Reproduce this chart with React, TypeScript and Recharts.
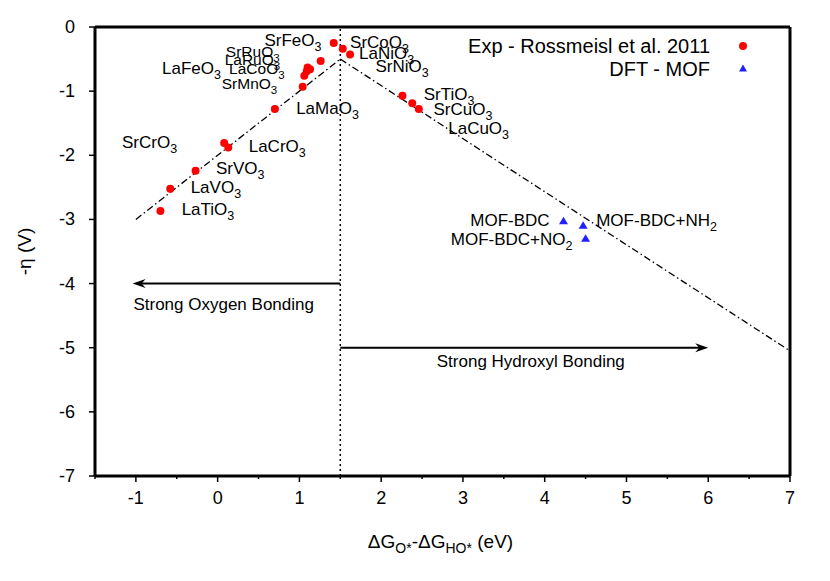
import React from "react";
import { ReferenceLine, Scatter, ScatterChart, XAxis, YAxis } from "recharts";

// Rossmeisl et al. 2011 experimental perovskites
const expX = [1.42, 1.53, 1.62, 1.26, 1.1, 1.13, 1.09, 1.06, 1.04, 0.7, 0.08, 0.13, -0.27, -0.58, -0.7, 2.26, 2.38, 2.46];
const expY = [-0.25, -0.34, -0.43, -0.53, -0.63, -0.66, -0.69, -0.76, -0.93, -1.28, -1.81, -1.88, -2.24, -2.52, -2.87, -1.07, -1.19, -1.28];

// DFT MOF points
const mofX = [4.23, 4.47, 4.5];
const mofY = [-3.03, -3.1, -3.3];

// volcano branches and arrows (data coords)
const leftBranch = [{ x: -1, y: -3 }, { x: 1.5, y: -0.5 }];
const rightBranch = [{ x: 1.5, y: -0.5 }, { x: 7, y: -5.05 }];
const oxygenArrow = [{ x: 1.5, y: -4 }, { x: -1.04, y: -4 }];
const hydroxylArrow = [{ x: 1.5, y: -5 }, { x: 6, y: -5 }];
const peakX = 1.5;

// point annotations
const labelMain = [
  "SrFeO", "SrCoO", "LaNiO", "SrNiO", "SrRuO", "LaRuO", "LaCoO", "SrMnO", "LaFeO", "LaMaO", "SrCrO",
  "LaCrO", "SrVO", "LaVO", "LaTiO", "SrTiO", "SrCuO", "LaCuO", "MOF-BDC", "MOF-BDC+NH", "MOF-BDC+NO",
];
const labelSub = ["3", "3", "3", "3", "3", "3", "3", "3", "3", "3", "3", "3", "3", "3", "3", "3", "3", "3", "", "2", "2"];
const labelX = [1.27, 1.62, 1.73, 1.93, 0.1, 0.086, 0.14, 0.05, -0.68, 0.96, -1.17, 0.38, -0.02, -0.33, -0.44, 2.52, 2.64, 2.82, 4.06, 4.63, 4.34];
const labelY = [-0.3, -0.33, -0.5, -0.7, -0.46, -0.6, -0.73, -0.97, -0.73, -1.35, -1.89, -1.95, -2.29, -2.59, -2.93, -1.14, -1.37, -1.67, -3.1, -3.1, -3.4];
const labelAnchor = ["end", "start", "start", "start", "start", "start", "start", "start", "start", "start", "start",
  "start", "start", "start", "start", "start", "start", "start", "end", "start", "end"];
// the crowded cluster is set a bit smaller in the original
const crowded = ["SrRuO", "LaRuO", "LaCoO", "SrMnO"];

const noteText = ["Strong Oxygen Bonding", "Strong Hydroxyl Bonding"];
const noteX = [-1.03, 2.68];
const noteY = [-4.41, -5.3];

const xTicks = [-1.5, -1, -0.5, 0, 0.5, 1, 1.5, 2, 2.5, 3, 3.5, 4, 4.5, 5, 5.5, 6, 6.5, 7];
const yTicks = [0, -1, -2, -3, -4, -5, -6, -7];

const expData = expX.map((x, i) => ({ x, y: expY[i] }));
const mofData = mofX.map((x, i) => ({ x, y: mofY[i] }));
const labelData = labelMain.map((t, i) => ({ x: labelX[i], y: labelY[i], t, s: labelSub[i], a: labelAnchor[i] }));
const noteData = noteText.map((t, i) => ({ x: noteX[i], y: noteY[i], t, s: "", a: "start" }));

const FONT = "'Liberation Sans', Arial, Helvetica, sans-serif";

const XTick = (props: any) => {
  const { x, y, payload } = props;
  const major = Number.isInteger(payload.value);
  return (
    <g>
      <line x1={x} x2={x} y1={y} y2={y + (major ? 6 : 3)} stroke="#000" strokeWidth={1.5} />
      {major && (
        <text x={x} y={y + 28} textAnchor="middle" fontSize={18} fill="#000">
          {payload.value}
        </text>
      )}
    </g>
  );
};

const YTick = (props: any) => {
  const { x, y, payload } = props;
  return (
    <g>
      <line x1={x} x2={x - 6} y1={y} y2={y} stroke="#000" strokeWidth={1.5} />
      <text x={x - 20} y={y + 6} textAnchor="end" fontSize={18} fill="#000">
        {payload.value}
      </text>
    </g>
  );
};

const Dot = (props: any) => <circle cx={props.cx} cy={props.cy} r={4} fill="#ff0000" />;
const Tri = (props: any) => {
  const { cx, cy } = props;
  return <polygon points={`${cx},${cy - 4.5} ${cx - 4.5},${cy + 3} ${cx + 4.5},${cy + 3}`} fill="#1f1fff" />;
};

const TextMark = (props: any) => {
  const { cx, cy, payload } = props;
  const small = crowded.includes(payload.t);
  return (
    <text x={cx} y={cy} textAnchor={payload.a} fontSize={small ? 15.5 : 17} fill="#000">
      <tspan>{payload.t}</tspan>
      {payload.s && (
        <tspan dy={5} fontSize={small ? 11.5 : 12.5}>
          {payload.s}
        </tspan>
      )}
    </text>
  );
};

const ArrowLine = (props: any) => {
  const { x1, y1, x2, y2 } = props;
  const d = Math.sign(x2 - x1);
  return (
    <g>
      <line x1={x1} y1={y1} x2={x2 - d * 6} y2={y2} stroke="#000" strokeWidth={2} />
      <polygon
        points={`${x2},${y2} ${x2 - d * 13},${y2 - 4.5} ${x2 - d * 9},${y2} ${x2 - d * 13},${y2 + 4.5}`}
        fill="#000"
      />
    </g>
  );
};

const XTitle = (props: any) => {
  const { viewBox } = props;
  const cx = viewBox.x + viewBox.width / 2;
  return (
    <text x={cx - 2} y={viewBox.y + 72} textAnchor="middle" fontSize={19} fill="#000">
      <tspan>ΔG</tspan>
      <tspan dy={5} fontSize={14}>O*</tspan>
      <tspan dy={-5}>-ΔG</tspan>
      <tspan dy={5} fontSize={14}>HO*</tspan>
      <tspan dy={-5}> (eV)</tspan>
    </text>
  );
};

const YTitle = (props: any) => {
  const { viewBox } = props;
  const cy = viewBox.y + viewBox.height / 2;
  return (
    <text x={31} y={cy} textAnchor="middle" fontSize={19} fill="#000" transform={`rotate(-90, 31, ${cy})`}>
      -η (V)
    </text>
  );
};

const LegendBox = () => (
  <svg
    width={830}
    height={90}
    style={{ position: "absolute", left: 0, top: 0, fontFamily: FONT, pointerEvents: "none" }}
  >
    <text x={710} y={53} textAnchor="end" fontSize={20} fill="#000">Exp - Rossmeisl et al. 2011</text>
    <circle cx={743} cy={46} r={4} fill="#ff0000" />
    <text x={710} y={76} textAnchor="end" fontSize={20} fill="#000">DFT - MOF</text>
    <polygon points="743,64.5 739,71.5 747,71.5" fill="#1f1fff" />
  </svg>
);

export default function App() {
  return (
    <div style={{ position: "absolute", left: 0, top: 0, width: 830, height: 581, background: "#fff", fontFamily: FONT }}>
      <ScatterChart width={830} height={581} margin={{ top: 27, right: 40, left: 0, bottom: 0 }} style={{ fontFamily: FONT }}>
        <XAxis
          type="number"
          dataKey="x"
          domain={[-1.5, 7]}
          ticks={xTicks}
          interval={0}
          allowDataOverflow
          height={105}
          tickSize={0}
          tickMargin={0}
          tick={<XTick />}
          axisLine={{ stroke: "#000", strokeWidth: 3 }}
          label={<XTitle />}
        />
        <YAxis
          type="number"
          dataKey="y"
          domain={[-7, 0]}
          ticks={yTicks}
          interval={0}
          allowDataOverflow
          width={95}
          tickSize={0}
          tickMargin={0}
          tick={<YTick />}
          axisLine={{ stroke: "#000", strokeWidth: 3 }}
          label={<YTitle />}
        />
        <ReferenceLine y={0} stroke="#000" strokeWidth={3} />
        <ReferenceLine x={7} stroke="#000" strokeWidth={3} />
        <ReferenceLine x={peakX} stroke="#000" strokeWidth={1.5} strokeDasharray="2 3" />
        <ReferenceLine segment={leftBranch} stroke="#000" strokeWidth={1.3} strokeDasharray="7 3 1.5 3" />
        <ReferenceLine segment={rightBranch} stroke="#000" strokeWidth={1.3} strokeDasharray="7 3 1.5 3" />
        <ReferenceLine segment={oxygenArrow} shape={<ArrowLine />} />
        <ReferenceLine segment={hydroxylArrow} shape={<ArrowLine />} />
        <Scatter name="labels" data={labelData} shape={<TextMark />} isAnimationActive={false} legendType="none" />
        <Scatter name="notes" data={noteData} shape={<TextMark />} isAnimationActive={false} legendType="none" />
        <Scatter name="Exp - Rossmeisl et al. 2011" data={expData} shape={<Dot />} isAnimationActive={false} />
        <Scatter name="DFT - MOF" data={mofData} shape={<Tri />} isAnimationActive={false} />
      </ScatterChart>
      <LegendBox />
    </div>
  );
}
